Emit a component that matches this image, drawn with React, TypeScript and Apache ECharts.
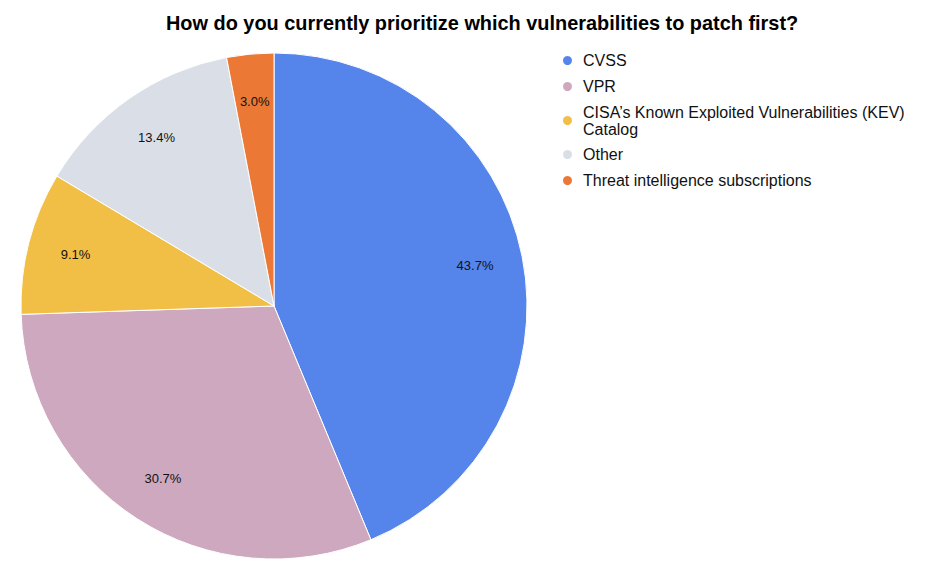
import React, { useEffect, useRef } from "react";
import * as echarts from "echarts";

const categories = [
  "CVSS",
  "VPR",
  "CISA’s Known Exploited Vulnerabilities (KEV) Catalog",
  "Other",
  "Threat intelligence subscriptions",
];
const values = [43.7, 30.7, 9.1, 13.4, 3.0];
const colors = ["#5585EB", "#CDA8BF", "#F1BF45", "#D9DEE7", "#EB7835"];
const titleText = "How do you currently prioritize which vulnerabilities to patch first?";

const FONT = "'Liberation Sans', Arial, Helvetica, sans-serif";

export default function App() {
  const ref = useRef<HTMLDivElement>(null);
  useEffect(() => {
    if (!ref.current) return;
    const chart = echarts.init(ref.current, null, { renderer: "svg" });
    const data = categories.map((name, i) => ({
      name,
      value: values[i],
      itemStyle: { color: colors[i] },
    }));
    const legendText = (name: string) =>
      name.startsWith("CISA") ? "CISA’s Known Exploited Vulnerabilities (KEV)\nCatalog" : name;
    const legendCommon = {
      orient: "vertical" as const,
      left: 561,
      icon: "circle",
      itemWidth: 21,
      itemHeight: 11,
      itemGap: 9,
      padding: 0,
      formatter: legendText,
      textStyle: { fontFamily: FONT, fontSize: 16, color: "#111", lineHeight: 17 },
    };
    chart.setOption({
      animation: false,
      title: {
        text: titleText,
        left: 166,
        top: 13,
        padding: 0,
        textStyle: { fontFamily: FONT, fontSize: 19.9, fontWeight: "bold", color: "#000" },
      },
      legend: [
        {
          ...legendCommon,
          top: 52,
          data: [
            categories[0],
            categories[1],
            { name: categories[2], textStyle: { padding: [0, 0, -17, 0] } },
          ],
        },
        {
          ...legendCommon,
          top: 146,
          data: [categories[3], categories[4]],
        },
      ],
      series: [
        {
          type: "pie",
          center: [274, 306],
          radius: [0, 253],
          startAngle: 90,
          clockwise: true,
          label: { show: false },
          labelLine: { show: false },
          itemStyle: { borderColor: "#fff", borderWidth: 1 },
          emphasis: { disabled: true },
          data,
        },
        {
          type: "pie",
          center: [274, 306],
          radius: [151, 253],
          startAngle: 90,
          clockwise: true,
          silent: true,
          emphasis: { disabled: true },
          itemStyle: { color: "transparent", borderWidth: 0 },
          label: {
            show: true,
            position: "inside",
            formatter: (p: any) => `${Number(p.value).toFixed(1)}%`,
            fontFamily: FONT,
            fontSize: 13,
            color: "#111",
          },
          labelLine: { show: false },
          data: categories.map((name, i) => ({
            name,
            value: values[i],
            itemStyle: { color: "transparent" },
          })),
        },
      ],
    });
    return () => chart.dispose();
  }, []);
  return (
    <div
      ref={ref}
      style={{ position: "absolute", top: 0, left: 0, width: 929, height: 570, background: "#fff" }}
    />
  );
}
